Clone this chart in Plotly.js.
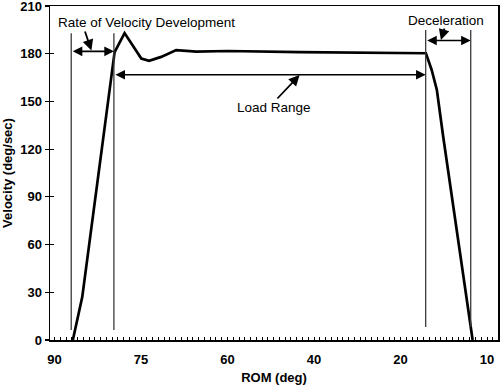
<!DOCTYPE html>
<html>
<head>
<meta charset="utf-8">
<script src="https://cdn.plot.ly/plotly-3.0.1.min.js"></script>
<style>html,body{margin:0;padding:0;background:#fff;}#chart{width:501px;height:386px;}</style>
</head>
<body>
<div id="chart"></div>
<script>
// x positions are in sample units along the (category-like) ROM axis
const romIndex = [3.18, 4.81, 10.42, 12.15, 15.05, 16.4, 18.5, 21.1, 24.6, 30.0, 42.5, 56.4, 64.4, 65.4, 66.3, 67.4, 72.5];
const velocity = [0, 27, 181, 193, 177, 175.5, 178, 182.3, 181.3, 181.7, 181, 180.5, 180.3, 169.8, 157.2, 127.8, 0];

const tickPositions = [0, 15, 30, 45, 60, 75];
const tickLabels = ['90', '75', '60', '40', '20', '10'];
const yTicks = [0, 30, 60, 90, 120, 150, 180, 210];

// phase boundary markers
const boundaryX = [2.9, 10.3, 64.36, 72.17];
const boundaryBottom = [6.3, 6.3, 8.2, 8.2];
const boundaryTop = [192.8, 192.8, 194.9, 194.9];

// phase spans (double arrows)
const spanStart = [2.9, 10.3, 64.36];
const spanEnd = [10.3, 64.36, 72.17];
const spanLevel = [181.5, 166.8, 188.3];

// labels
const labelText = ['Rate of Velocity Development', 'Load Range', 'Deceleration'];
const labelX = [15.97, 38.07, 67.85];
const labelY = [199.9, 146.1, 201.2];
const pointerTailX = [5.2, 38.4, 67.7];
const pointerTailY = [194.9, 150.9, 196.8];
const pointerHeadX = [6.4, 42.5, 67.0];
const pointerHeadY = [182.0, 166.6, 188.6];

const FONT = 'Liberation Sans, Arial, Helvetica, sans-serif';

const traces = [
  {x: romIndex, y: velocity, mode: 'lines', line: {color: '#000', width: 2.7}, hoverinfo: 'skip', showlegend: false},
  {x: [null], y: [null], yaxis: 'y2', mode: 'lines', hoverinfo: 'skip', showlegend: false}
];

const shapes = boundaryX.map((bx, i) => ({
  type: 'line', xref: 'x', yref: 'y', x0: bx, x1: bx, y0: boundaryBottom[i], y1: boundaryTop[i],
  line: {color: '#3a3a3a', width: 1.3}
}));

const annotations = [];
spanStart.forEach((s, i) => {
  annotations.push({
    x: spanEnd[i], y: spanLevel[i], ax: s, ay: spanLevel[i], axref: 'x', ayref: 'y', xref: 'x', yref: 'y',
    text: '', showarrow: true, arrowhead: 2, arrowside: 'end+start', arrowsize: 1.2, arrowwidth: 1.6, arrowcolor: '#000', standoff: 0, startstandoff: 0
  });
});
labelText.forEach((t, i) => {
  annotations.push({
    x: labelX[i], y: labelY[i], xref: 'x', yref: 'y', text: t, showarrow: false,
    font: {family: FONT, size: 13.5, color: '#000'}, xanchor: 'center', yanchor: 'middle'
  });
  annotations.push({
    x: pointerHeadX[i], y: pointerHeadY[i], ax: pointerTailX[i], ay: pointerTailY[i], axref: 'x', ayref: 'y', xref: 'x', yref: 'y',
    text: '', showarrow: true, arrowhead: 2, arrowsize: 1.2, arrowwidth: 1.8, arrowcolor: '#000', standoff: 0
  });
});

const layout = {
  width: 501, height: 386,
  margin: {l: 50, r: 3, t: 6, b: 46, pad: 0},
  paper_bgcolor: '#fff', plot_bgcolor: '#fff',
  showlegend: false,
  font: {family: FONT, color: '#000'},
  xaxis: {
    range: [-0.78, 76.9], tickmode: 'array', tickvals: tickPositions, ticktext: tickLabels,
    ticks: 'inside', ticklen: 3, tickwidth: 1, tickcolor: '#000',
    minor: {tickmode: 'linear', tick0: 0, dtick: 1, ticks: 'inside', ticklen: 3, tickwidth: 1, tickcolor: '#000'},
    showgrid: false, zeroline: false, showline: true, linecolor: '#000', linewidth: 1.5, mirror: true,
    tickfont: {family: FONT, size: 13, color: '#000', weight: 'bold'},
    ticklabelstandoff: 7,
    title: {text: 'ROM (deg)', font: {family: FONT, size: 13, color: '#000', weight: 'bold'}, standoff: 7}
  },
  yaxis: {
    range: [0, 210], tickmode: 'array', tickvals: yTicks,
    ticks: 'outside', ticklen: 4, tickwidth: 1.2, tickcolor: '#000',
    ticklabeloverflow: 'allow',
    showgrid: false, zeroline: false, showline: true, linecolor: '#000', linewidth: 1.5, mirror: true,
    tickfont: {family: FONT, size: 13, color: '#000', weight: 'bold'},
    title: {text: 'Velocity (deg/sec)', font: {family: FONT, size: 13, color: '#000', weight: 'bold'}, standoff: 6}
  },
  yaxis2: {
    overlaying: 'y', side: 'left', range: [0, 210], tickmode: 'array', tickvals: yTicks,
    ticks: 'inside', ticklen: 3.5, tickwidth: 1.2, tickcolor: '#000',
    showticklabels: false, showgrid: false, zeroline: false, showline: false
  },
  shapes: shapes,
  annotations: annotations
};

Plotly.newPlot('chart', traces, layout, {staticPlot: true, displayModeBar: false});
</script>
</body>
</html>
